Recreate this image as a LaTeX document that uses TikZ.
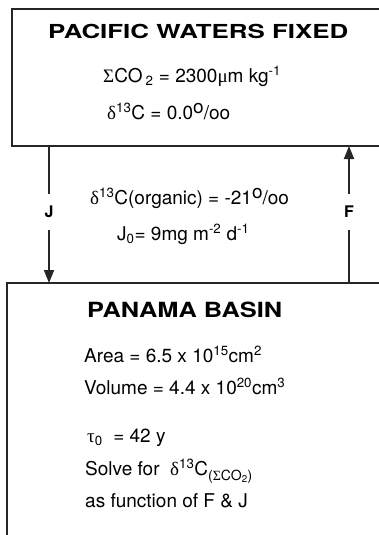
\documentclass[tikz,border=0pt]{standalone}
\usepackage{graphicx}
\usepackage{fontspec}
\setmainfont{TeX Gyre Heros}
\newfontfamily\grk{Liberation Serif}
\usetikzlibrary{arrows.meta}
\begin{document}
\begin{tikzpicture}[x=1pt,y=-1pt,
  edge/.style={draw=black!85, line width=1.8pt, line join=miter},
  txt/.style={anchor=base west, inner sep=0pt, font=\fontsize{19}{22}\selectfont},
  ttl/.style={anchor=base west, inner sep=0pt},
  lab/.style={font=\fontsize{16}{18}\selectfont\bfseries, minimum height=36pt, inner sep=0pt},
  seg/.style={draw=black!85, line width=1.8pt},
  arr/.style={seg, -{Triangle[length=13pt,width=10pt]}}]
\useasboundingbox (0,0) rectangle (379,535);
% boxes (open to the right / bottom, cut by the page)
\coordinate (pacNW) at (12,9);
\coordinate (pacSW) at (12,146);
\coordinate (pacNE) at (384,9);
\coordinate (pacSE) at (384,146);
\coordinate (panNW) at (7,283);
\coordinate (panNE) at (384,283);
\coordinate (panSW) at (7,540);
\draw[edge] (pacNE) -- (pacNW) -- (pacSW) -- (pacSE);
\draw[edge] (panNE) -- (panNW) -- (panSW);
% top box text
\node[ttl] (t1) at (48,39) {\resizebox{300pt}{14.3pt}{\bfseries PACIFIC WATERS FIXED}};
\node[txt] (co2) at (103,82) {{\grk Σ}CO\,\textsubscript{2} = 2300{\grk μ}m kg\textsuperscript{-1}};
\node[txt] (d13) at (107,119) {{\grk δ}\textsuperscript{13}C = 0.0\raisebox{6pt}{o}/oo};
% middle text
\node[txt] (org) at (90,204) {{\grk δ}\textsuperscript{13}C(organic) = -21\raisebox{6pt}{o}/oo};
\node[txt] (j0) at (117,240) {J\textsubscript{0}= 9mg m\textsuperscript{-2} d\textsuperscript{-1}};
% labels and arrows
\node[lab] (J) at (49,212) {J};
\node[lab] (F) at (349,212) {F};
\draw[seg] (pacSW -| J) -- (J);
\draw[arr] (J) -- (panNW -| J);
\draw[arr] (F) -- (pacSW -| F);
\draw[seg] (F) -- (panNW -| F);
% bottom box text
\node[ttl] (pb) at (87,317) {\resizebox{195pt}{15.5pt}{\bfseries PANAMA BASIN}};
\node[txt] (area) at (84,362) {Area = 6.5 x 10\textsuperscript{15}cm\textsuperscript{2}};
\node[txt] (vol) at (84,394) {Volume = 4.4 x 10\textsuperscript{20}cm\textsuperscript{3}};
\node[txt] (tau) at (87,442) {{\grk τ}\textsubscript{0} \ = 42 y};
\node[txt] (solve) at (85,475) {Solve for \ {\grk δ}\textsuperscript{13}C\raisebox{-5pt}{\fontsize{14}{14}\selectfont({\grk Σ}CO\textsubscript{2})}};
\node[txt] (fn) at (85,507) {as function of F \& J};
\end{tikzpicture}
\end{document}
